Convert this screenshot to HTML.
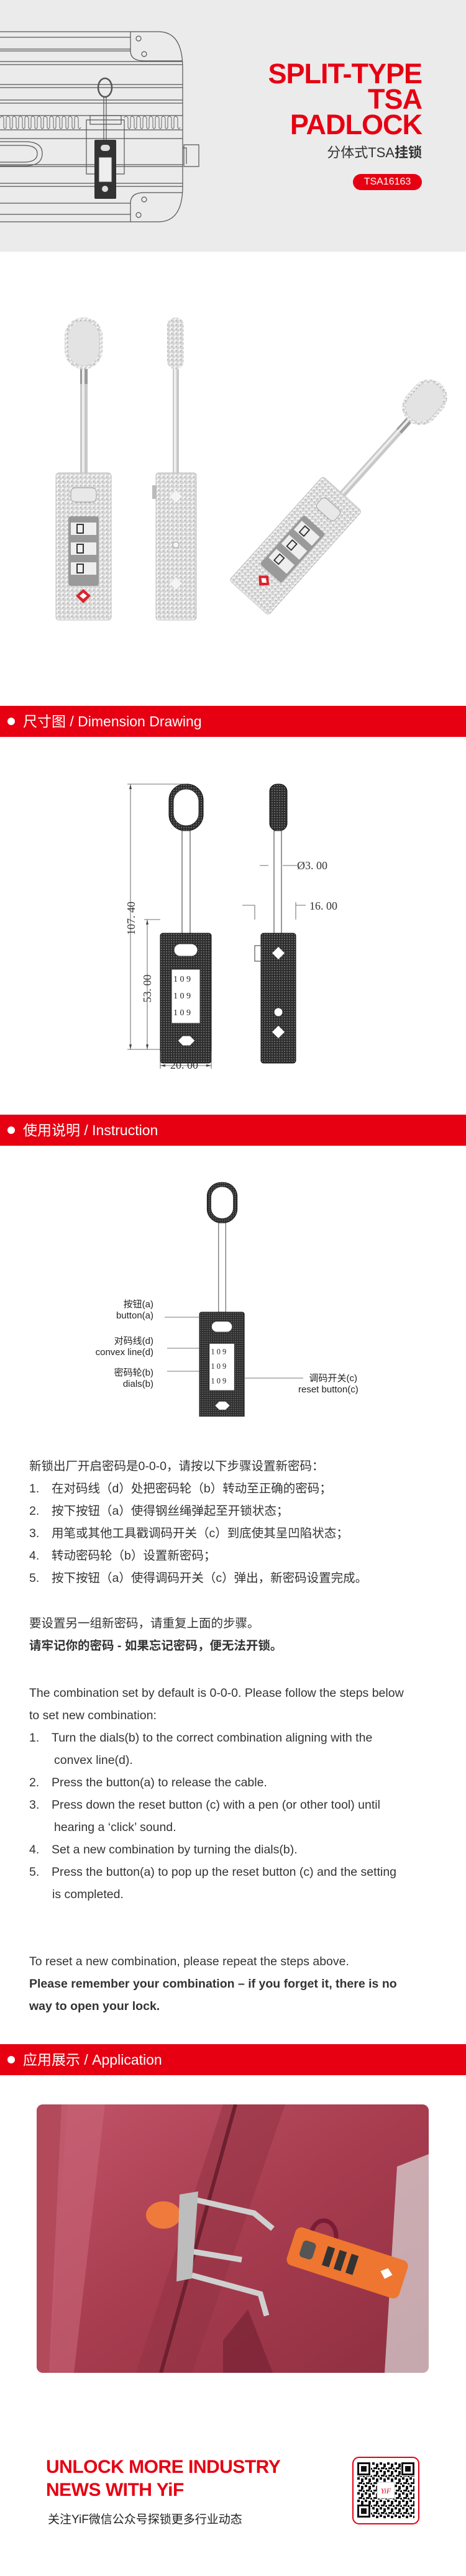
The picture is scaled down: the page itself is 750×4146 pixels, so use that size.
<!DOCTYPE html>
<html><head><meta charset="utf-8">
<style>
*{margin:0;padding:0;box-sizing:border-box}
body{width:750px;height:4146px;position:relative;background:#fff;font-family:"Liberation Sans","Noto Sans CJK SC",sans-serif;overflow:hidden}
.a{position:absolute}
.bar{position:absolute;left:0;width:750px;height:50px;background:#e60012;color:#fff;font-size:23px;line-height:50px;padding-left:37px;white-space:nowrap}
.bar:before{content:"";position:absolute;left:12px;top:19px;width:12px;height:12px;border-radius:50%;background:#fff}
.txt{position:absolute;left:47px;font-size:19.5px;line-height:36px;color:#333;white-space:nowrap}
.txt div{position:relative}
.n{display:inline-block;width:36px}
.ind{padding-left:40px}
.lbl{position:absolute;font-size:15px;line-height:18px;color:#222;white-space:nowrap}
</style></head><body>

<!-- header -->
<div class="a" style="left:0;top:0;width:750px;height:405px;background:#ebebeb"></div>
<svg class="a" style="left:0;top:0" width="750" height="405">
<g stroke="#555" stroke-width="1.2" fill="none">
<path d="M0 51H255Q294 51 294 110V300Q294 357 255 357H0"/>
<path d="M0 60H210M0 79H210M0 82H210M0 99H294M0 104H294M0 136H294M0 141H294M0 161H294M0 166H294M0 223H294M0 265H294M0 268H294M0 295H294M0 300H294M0 327H210M0 345H210"/>
<path d="M210 51V82Q210 98 232 98H294"/><path d="M210 357V327Q210 310 232 310H294"/>
<circle cx="223" cy="62" r="4"/><circle cx="232" cy="87" r="4"/><circle cx="232" cy="321" r="4"/><circle cx="223" cy="346" r="4"/>
<path d="M0 186H294M0 209H294"/>
<path d="M0 228H40Q68 228 68 247Q68 267 40 267H0M0 234H38Q60 234 60 247Q60 261 38 261H0"/>
<path d="M296 233H320V268H296ZM294 238H300V264"/>
<path d="M139 193H200V280H139Z"/><path d="M145 186H195V200H145Z"/>
<ellipse cx="169" cy="141" rx="11" ry="15" stroke-width="2.5"/>
<path d="M167 156V225M171 156V225"/>
</g>
<g stroke="#666" stroke-width="1" fill="none">
<path d="M0 190q4 -6 6 0v15q2 4 4 0V190q2 -6 6 0v15q2 4 4 0V190q2 -6 6 0v15q2 4 4 0V190q2 -6 6 0v15q2 4 4 0V190q2 -6 6 0v15q2 4 4 0V190q2 -6 6 0v15q2 4 4 0V190q2 -6 6 0v15q2 4 4 0V190q2 -6 6 0v15q2 4 4 0V190q2 -6 6 0v15q2 4 4 0V190q2 -6 6 0v15q2 4 4 0V190q2 -6 6 0v15q2 4 4 0V190q2 -6 6 0v15q2 4 4 0V190q2 -6 6 0v15q2 4 4 0"/>
<path d="M200 190q2 -6 6 0v15q2 4 4 0V190q2 -6 6 0v15q2 4 4 0V190q2 -6 6 0v15q2 4 4 0V190q2 -6 6 0v15q2 4 4 0V190q2 -6 6 0v15q2 4 4 0V190q2 -6 6 0v15q2 4 4 0V190q2 -6 6 0v15q2 4 4 0V190q2 -6 6 0v15q2 4 4 0V190q2 -6 6 0v15q2 4 4 0"/>
</g>
<rect x="152" y="225" width="35" height="95" rx="2" fill="#333"/>
<rect x="162" y="233" width="15" height="10" rx="5" fill="#ddd"/>
<rect x="159" y="253" width="21" height="40" fill="#eee" stroke="#444"/>
<circle cx="169" cy="304" r="5" fill="#ddd"/>
</svg>
<div class="a" style="right:71px;top:98px;text-align:right;color:#e60012;font-weight:bold;font-size:45px;line-height:41px;letter-spacing:-1px">SPLIT-TYPE<br>TSA<br>PADLOCK</div>
<div class="a" style="right:71px;top:228px;font-size:22px;color:#333">分体式TSA<b>挂锁</b></div>
<div class="a" style="left:568px;top:280px;width:111px;height:26px;border-radius:13px;background:#e60012;color:#fff;font-size:16px;line-height:26px;text-align:center">TSA16163</div>

<!-- product photo -->
<svg class="a" style="left:0;top:405px" width="750" height="700">
<defs>
<pattern id="kn" width="7" height="7" patternUnits="userSpaceOnUse"><rect width="7" height="7" fill="#d4d4d4"/><path d="M3.5 0L7 3.5L3.5 7L0 3.5Z" fill="#f4f4f4"/><path d="M3.5 3.5L7 3.5L3.5 7Z" fill="#b4b4b4"/></pattern>
<g id="flock">
<rect x="14" y="0" width="61" height="83" rx="30" fill="url(#kn)"/><rect x="20" y="6" width="49" height="71" rx="24" fill="#e3e3e3"/>
<rect x="39" y="83" width="12" height="167" fill="#c8c8c8"/><rect x="39" y="83" width="12" height="24" fill="#999"/><rect x="42" y="83" width="4" height="167" fill="#eee"/>
<rect x="0" y="250" width="89" height="237" rx="5" fill="url(#kn)" stroke="#c0c0c0"/>
<rect x="24" y="274" width="41" height="23" rx="7" fill="#e8e8e8" stroke="#999"/>
<rect x="20" y="320" width="49" height="112" rx="4" fill="#9a9a9a"/>
<rect x="24" y="330" width="41" height="20" fill="#eee"/><rect x="24" y="362" width="41" height="20" fill="#eee"/><rect x="24" y="394" width="41" height="20" fill="#eee"/>
<rect x="34" y="333" width="10" height="14" fill="none" stroke="#333" stroke-width="2"/><rect x="34" y="365" width="10" height="14" fill="none" stroke="#333" stroke-width="2"/><rect x="34" y="397" width="10" height="14" fill="none" stroke="#333" stroke-width="2"/>
<path d="M32 448L44 437L56 448L44 460Z" fill="#d9232d"/><path d="M38 448L44 443L50 448L44 453Z" fill="#fff"/>
</g>
</defs>
<g transform="translate(90,106)"><use href="#flock"/></g>
<g transform="translate(251,106)">
<rect x="18" y="0" width="27" height="83" rx="13" fill="url(#kn)"/>
<rect x="27" y="83" width="10" height="167" fill="#c8c8c8"/><rect x="29" y="83" width="4" height="167" fill="#eee"/>
<rect x="0" y="250" width="65" height="237" rx="4" fill="url(#kn)" stroke="#c0c0c0"/>
<rect x="-6" y="270" width="7" height="22" fill="#bbb"/>
<path d="M32 278L42 288L32 298L22 288Z" fill="#f4f4f4"/><path d="M32 418L42 428L32 438L22 428Z" fill="#f4f4f4"/><circle cx="32" cy="366" r="5" fill="#f4f4f4" stroke="#999"/>
</g>
<g transform="translate(476,473) rotate(42) scale(0.95) translate(-44.5,-368)"><use href="#flock"/></g>
</svg>

<!-- dimension -->
<div class="bar" style="top:1136px">尺寸图 / Dimension Drawing</div>
<svg class="a" style="left:0;top:1240px" width="750" height="500">
<defs>
<pattern id="dk" width="4" height="4" patternUnits="userSpaceOnUse"><rect width="4" height="4" fill="#2d2d2d"/><circle cx="2" cy="2" r="1" fill="#777"/></pattern>
<g id="dlock">
<rect x="14" y="0" width="55" height="75" rx="26" fill="url(#dk)" stroke="#111"/><rect x="21" y="8" width="41" height="59" rx="20" fill="#fff" stroke="#333"/>
<rect x="35" y="75" width="13" height="165" fill="#fff" stroke="#333"/>
<rect x="0" y="240" width="82" height="209" rx="4" fill="url(#dk)" stroke="#111"/>
<rect x="22" y="257" width="38" height="20" rx="10" fill="#fff" stroke="#333"/>
<rect x="18" y="298" width="46" height="87" fill="#fff" stroke="#333"/>
<text x="21" y="318" font-size="14" font-family="Liberation Serif,serif" fill="#222">1 0 9</text><text x="21" y="345" font-size="14" font-family="Liberation Serif,serif" fill="#222">1 0 9</text><text x="21" y="372" font-size="14" font-family="Liberation Serif,serif" fill="#222">1 0 9</text>
<path d="M28 413L36 405H48L56 413L48 421H36Z" fill="#fff" stroke="#333"/>
</g>
</defs>
<g transform="translate(258,22)"><use href="#dlock"/></g>
<g transform="translate(420,22)">
<rect x="14" y="0" width="28" height="75" rx="12" fill="url(#dk)" stroke="#111"/>
<rect x="21" y="75" width="12" height="165" fill="#fff" stroke="#333"/>
<rect x="0" y="240" width="56" height="209" rx="4" fill="url(#dk)" stroke="#111"/>
<rect x="-10" y="260" width="10" height="25" fill="#fff" stroke="#333"/>
<path d="M28 262L38 272L28 282L18 272Z" fill="#fff"/><path d="M28 389L38 399L28 409L18 399Z" fill="#fff"/><circle cx="28" cy="367" r="7" fill="#fff" stroke="#333"/>
</g>
<g stroke="#444" stroke-width="0.8" fill="none">
<path d="M205 22H300M205 449H258M210 22V449M232 240H258M237 240V449M258 452V480M340 452V480M258 475H340"/>
<path d="M418 153H432M470 153H478M455 153H478"/><path d="M390 217H410V240M476 212V240M476 217H492"/>
</g>
<g fill="#444"><path d="M210 22l-2 8h4z M210 449l-2 -8h4z M237 240l-2 8h4z M237 449l-2 -8h4z M258 475l8 -2v4z M340 475l-8 -2v4z"/></g>
<g font-family="Liberation Serif,serif" font-size="18" fill="#333">
<text transform="translate(217,238) rotate(-90)" text-anchor="middle">107. 40</text>
<text transform="translate(243,351) rotate(-90)" text-anchor="middle">53. 00</text>
<text x="274" y="480">20. 00</text>
<text x="478" y="159">Ø3. 00</text>
<text x="498" y="224">16. 00</text>
</g>
</svg>

<!-- instruction -->
<div class="bar" style="top:1794px">使用说明 / Instruction</div>
<svg class="a" style="left:0;top:1900px" width="750" height="380">
<g transform="translate(321,3) scale(0.88,0.87)"><use href="#dlock"/></g>
<g stroke="#777" stroke-width="1"><path d="M265 220H321M269 270H321M269 307H321M393 318H488"/></g>
</svg>
<div class="lbl" style="right:503px;top:2091px;text-align:right">按钮(a)<br>button(a)</div>
<div class="lbl" style="right:503px;top:2150px;text-align:right">对码线(d)<br>convex line(d)</div>
<div class="lbl" style="right:503px;top:2201px;text-align:right">密码轮(b)<br>dials(b)</div>
<div class="lbl" style="left:480px;top:2210px;text-align:right;width:95px">调码开关(c)<br>reset button(c)</div>

<div class="txt" style="top:2342px">
<div>新锁出厂开启密码是0-0-0，请按以下步骤设置新密码：</div>
<div><span class="n">1.</span>在对码线（d）处把密码轮（b）转动至正确的密码；</div>
<div><span class="n">2.</span>按下按钮（a）使得钢丝绳弹起至开锁状态；</div>
<div><span class="n">3.</span>用笔或其他工具戳调码开关（c）到底使其呈凹陷状态；</div>
<div><span class="n">4.</span>转动密码轮（b）设置新密码；</div>
<div><span class="n">5.</span>按下按钮（a）使得调码开关（c）弹出，新密码设置完成。</div>
</div>
<div class="txt" style="top:2595px">
<div>要设置另一组新密码，请重复上面的步骤。</div>
<div style="font-weight:bold">请牢记你的密码 - 如果忘记密码，便无法开锁。</div>
</div>
<div class="txt" style="top:2707px">
<div>The combination set by default is 0-0-0. Please follow the steps below</div>
<div>to set new combination:</div>
<div><span class="n">1.</span>Turn the dials(b) to the correct combination aligning with the</div>
<div class="ind">convex line(d).</div>
<div><span class="n">2.</span>Press the button(a) to release the cable.</div>
<div><span class="n">3.</span>Press down the reset button (c) with a pen (or other tool) until</div>
<div class="ind">hearing a ‘click’ sound.</div>
<div><span class="n">4.</span>Set a new combination by turning the dials(b).</div>
<div><span class="n">5.</span>Press the button(a) to pop up the reset button (c) and the setting</div>
<div style="padding-left:37px">is completed.</div>
</div>
<div class="txt" style="top:3139px">
<div>To reset a new combination, please repeat the steps above.</div>
<div style="font-weight:bold">Please remember your combination – if you forget it, there is no</div>
<div style="font-weight:bold">way to open your lock.</div>
</div>

<!-- application -->
<div class="bar" style="top:3290px">应用展示 / Application</div>
<svg class="a" style="left:59px;top:3387px" width="631" height="432">
<defs>
<linearGradient id="bg" x1="0" y1="0" x2="1" y2="1"><stop offset="0" stop-color="#c25468"/><stop offset="0.5" stop-color="#a73c4f"/><stop offset="1" stop-color="#8e2f40"/></linearGradient>
<clipPath id="cp"><rect width="631" height="432" rx="10"/></clipPath>
</defs>
<g clip-path="url(#cp)">
<rect width="631" height="432" fill="url(#bg)"/>
<path d="M0 0H50L20 432H0Z" fill="#b24a5c"/>
<path d="M40 0H110L60 432H20Z" fill="#c86578" opacity="0.6"/>
<path d="M300 0H400L250 432H160Z" fill="#8f3142" opacity="0.5"/>
<path d="M320 0L200 432" stroke="#6e2030" stroke-width="6"/>
<path d="M580 100L631 80V432H560Z" fill="#ddd" opacity="0.7"/>
<ellipse cx="204" cy="178" rx="28" ry="22" fill="#f07a3c"/>
<path d="M240 150L350 175L380 200M240 235L330 250M250 275L360 305L370 340" stroke="#cfcfcf" stroke-width="9" fill="none"/>
<path d="M230 145L260 140L250 280L225 285Z" fill="#bdbdbd"/>
<ellipse cx="462" cy="212" rx="20" ry="25" fill="none" stroke="#7a1c35" stroke-width="7"/>
<g transform="translate(500,255) rotate(18)"><rect x="-95" y="-32" width="190" height="64" rx="10" fill="#ee7630"/><rect x="-78" y="-14" width="22" height="28" rx="6" fill="#555"/><rect x="-38" y="-16" width="12" height="32" fill="#333"/><rect x="-18" y="-16" width="12" height="32" fill="#333"/><rect x="2" y="-16" width="12" height="32" fill="#333"/><path d="M55 -4L65 -12L75 -4L65 6Z" fill="#fff"/></g>
<path d="M300 380L340 330L380 432H300Z" fill="#7c2637" opacity="0.8"/>
</g>
</svg>

<!-- footer -->
<div class="a" style="left:74px;top:3952px;color:#e60012;font-weight:bold;font-size:30px;line-height:37px;letter-spacing:-0.5px">UNLOCK MORE INDUSTRY<br>NEWS WITH YiF</div>
<div class="a" style="left:77px;top:4040px;font-size:19px;color:#222">关注YiF微信公众号探锁更多行业动态</div>
<div class="a" style="left:567px;top:3954px;width:108px;height:109px;border:2.5px solid #e60012;border-radius:11px;background:#fff"></div>
<svg class="a" style="left:575px;top:3963px" width="92" height="90">
<defs><pattern id="qr" width="12" height="12" patternUnits="userSpaceOnUse"><rect width="4" height="4" fill="#111"/><rect x="6" y="2" width="4" height="6" fill="#111"/><rect x="2" y="8" width="6" height="3" fill="#111"/><rect x="9" y="9" width="3" height="3" fill="#111"/></pattern></defs>
<rect width="92" height="90" fill="url(#qr)"/>
<g fill="#fff"><rect width="22" height="22"/><rect x="70" width="22" height="22"/><rect y="68" width="22" height="22"/></g>
<g fill="none" stroke="#111" stroke-width="3"><rect x="1.5" y="1.5" width="18" height="18"/><rect x="72.5" y="1.5" width="18" height="18"/><rect x="1.5" y="69.5" width="18" height="18"/></g>
<g fill="#111"><rect x="6" y="6" width="9" height="9"/><rect x="77" y="6" width="9" height="9"/><rect x="6" y="74" width="9" height="9"/></g>
<rect x="32" y="32" width="28" height="26" fill="#fff" stroke="#ccc"/>
<text x="46" y="50" text-anchor="middle" font-family="Liberation Serif,serif" font-style="italic" font-size="12" fill="#e60012">YiF</text>
</svg>
</body></html>
